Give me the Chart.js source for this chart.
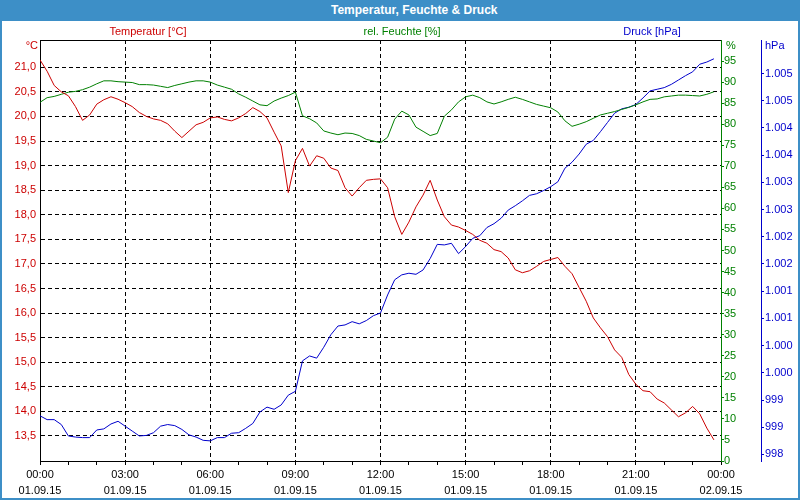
<!DOCTYPE html>
<html>
<head>
<meta charset="utf-8">
<script src="https://cdn.jsdelivr.net/npm/chart.js@4.4.0/dist/chart.umd.min.js"></script>
<style>
body { margin: 0; background: #fff; }
#wrap { position: relative; width: 800px; height: 500px; overflow: hidden; font-family: "Liberation Sans", Arial, sans-serif; font-size: 11px; background: #fff; }
#wrap canvas { position: absolute; left: 0; top: 0; }
.lbl { position: absolute; white-space: nowrap; line-height: 14px; }
#head { position: absolute; left: 0; top: 0; width: 800px; height: 21px; background: #3d8fc7; }
#title { color: #fff; font-weight: bold; font-size: 12px; left: 331px; top: 3px; }
#frame { position: absolute; left: 0; top: 0; width: 800px; height: 500px; box-sizing: border-box; border: 2px solid #3d8fc7; border-top: none; pointer-events: none; }
</style>
</head>
<body>
<div id="wrap">
  <canvas id="canvas1" width="800" height="500"></canvas>
  <div id="head"></div>
  <span class="lbl" id="title">Temperatur, Feuchte &amp; Druck</span>
  <span class="lbl" style="left:148px;top:24px;transform:translateX(-50%);color:#cc0000">Temperatur [°C]</span>
  <span class="lbl" style="left:402px;top:24px;transform:translateX(-50%);color:#008000">rel. Feuchte [%]</span>
  <span class="lbl" style="left:652px;top:24px;transform:translateX(-50%);color:#0000cc">Druck [hPa]</span>
  <span class="lbl" style="right:762px;top:38px;color:#cc0000">°C</span>
  <span class="lbl" style="left:726px;top:38px;color:#008000">%</span>
  <span class="lbl" style="left:765px;top:38px;color:#0000cc">hPa</span>
  <div id="frame"></div>
</div>
<script>
// samples every 15 minutes, 00:00 .. 23:45
const minutes = Array.from({length: 96}, (_, i) => i * 15);

const temperatur = [
  21.15, 20.92, 20.63, 20.5, 20.42, 20.2, 19.92, 20.03, 20.25, 20.34,
  20.4, 20.35, 20.28, 20.2, 20.08, 20.0, 19.95, 19.92, 19.85, 19.7,
  19.57, 19.7, 19.83, 19.88, 19.97, 19.99, 19.94, 19.91, 19.97, 20.06,
  20.18, 20.1, 19.97, 19.68, 19.4, 18.45, 19.1, 19.35, 18.99, 19.2,
  19.15, 18.95, 18.9, 18.55, 18.38, 18.55, 18.7, 18.72, 18.73, 18.55,
  17.96, 17.6, 17.85, 18.16, 18.4, 18.7, 18.3, 17.96, 17.79, 17.75,
  17.68, 17.6, 17.48, 17.42, 17.29, 17.25, 17.12, 16.88, 16.82, 16.86,
  16.95, 17.05, 17.09, 17.13, 16.95, 16.8, 16.52, 16.24, 15.9, 15.7,
  15.52, 15.25, 15.1, 14.75, 14.55, 14.42, 14.4, 14.25, 14.17, 14.03,
  13.89, 13.97, 14.1, 13.95, 13.66, 13.42
];

const feuchte = [
  85.2, 86.3, 86.6, 87.1, 87.6, 87.8, 88.2, 88.8, 89.6, 90.3,
  90.3, 90.1, 90.0, 89.9, 89.4, 89.4, 89.3, 89.0, 88.7, 89.2,
  89.6, 90.0, 90.3, 90.3, 90.0, 89.3, 88.8, 88.3, 87.2, 86.4,
  85.5, 84.6, 84.4, 85.5, 86.2, 86.8, 87.6, 82.0, 81.3, 80.3,
  78.4, 77.9, 77.5, 77.9, 77.8, 77.3, 76.4, 76.0, 75.6, 76.9,
  81.2, 83.1, 82.2, 79.3, 78.3, 77.3, 77.8, 81.9, 83.4, 85.3,
  86.5, 86.9, 86.3, 85.3, 84.8, 85.3, 85.9, 86.4, 85.9, 85.3,
  84.7, 84.3, 83.9, 82.9, 80.8, 79.5, 80.0, 80.6, 81.4, 82.2,
  82.6, 83.0, 83.5, 84.0, 84.6, 85.3, 85.9, 86.0, 86.5, 86.7,
  86.9, 86.9, 86.8, 86.7, 87.1, 87.7
];

const druck = [
  998.71, 998.64, 998.64, 998.55, 998.34, 998.32, 998.31, 998.31, 998.45, 998.47,
  998.56, 998.61, 998.52, 998.43, 998.34, 998.35, 998.40, 998.52, 998.55, 998.53,
  998.46, 998.36, 998.32, 998.26, 998.25, 998.31, 998.31, 998.39, 998.40, 998.48,
  998.57, 998.78, 998.87, 998.83, 998.91, 999.09, 999.16, 999.72, 999.81, 999.77,
  999.97, 1000.20, 1000.36, 1000.38, 1000.44, 1000.40, 1000.46, 1000.55, 1000.60, 1000.93,
  1001.21, 1001.30, 1001.33, 1001.31, 1001.39, 1001.60, 1001.86, 1001.85, 1001.88, 1001.69,
  1001.82, 1001.97, 1002.02, 1002.17, 1002.24, 1002.34, 1002.49, 1002.57, 1002.66, 1002.76,
  1002.79, 1002.85, 1002.92, 1003.01, 1003.26, 1003.37, 1003.52, 1003.70, 1003.77, 1003.93,
  1004.10, 1004.27, 1004.35, 1004.38, 1004.43, 1004.55, 1004.68, 1004.71, 1004.74, 1004.80,
  1004.88, 1004.96, 1005.03, 1005.17, 1005.21, 1005.27
];

// tick labels
const xTickTimes = ['00:00', '03:00', '06:00', '09:00', '12:00', '15:00', '18:00', '21:00', '00:00'];
const xTickDates = ['01.09.15', '01.09.15', '01.09.15', '01.09.15', '01.09.15', '01.09.15', '01.09.15', '01.09.15', '02.09.15'];
const hourTicks = [0, 60, 120, 180, 240, 300, 360, 420, 480, 540, 600, 660, 720, 780, 840, 900, 960, 1020, 1080, 1140, 1200, 1260, 1320, 1380, 1440];
const tempTicks = [13.5, 14.0, 14.5, 15.0, 15.5, 16.0, 16.5, 17.0, 17.5, 18.0, 18.5, 19.0, 19.5, 20.0, 20.5, 21.0];
const humTicks = [0, 5, 10, 15, 20, 25, 30, 35, 40, 45, 50, 55, 60, 65, 70, 75, 80, 85, 90, 95];
const pressTicks = [998, 998.5, 999, 999.5, 1000, 1000.5, 1001, 1001.5, 1002, 1002.5, 1003, 1003.5, 1004, 1004.5, 1005];

const RED = '#cc0000';
const GREEN = '#008000';
const BLUE = '#0000cc';
const font = { family: '"Liberation Sans", Arial, sans-serif', size: 11 };

function pts(values) {
  return minutes.map((m, i) => ({ x: m, y: values[i] }));
}

function hpa(v) {
  let r = Math.round(v);
  if (r >= 1000) return Math.floor(r / 1000) + '.' + String(r % 1000).padStart(3, '0');
  return String(r);
}

const ctx = document.getElementById('canvas1');
const chart = new Chart(ctx, {
  type: 'line',
  data: {
    datasets: [
      { label: 'Temperatur [°C]', data: pts(temperatur), yAxisID: 'yT', borderColor: RED, borderWidth: 1, pointRadius: 0, fill: false, tension: 0 },
      { label: 'rel. Feuchte [%]', data: pts(feuchte), yAxisID: 'yH', borderColor: GREEN, borderWidth: 1, pointRadius: 0, fill: false, tension: 0 },
      { label: 'Druck [hPa]', data: pts(druck), yAxisID: 'yP', borderColor: BLUE, borderWidth: 1, pointRadius: 0, fill: false, tension: 0 }
    ]
  },
  options: {
    responsive: false,
    animation: false,
    devicePixelRatio: 1,
    layout: { padding: { top: 40, left: 0, right: 0, bottom: 0 } },
    plugins: { legend: { display: false }, title: { display: false }, tooltip: { enabled: false } },
    scales: {
      x: {
        type: 'linear', position: 'bottom', min: 0, max: 1440,
        afterBuildTicks: s => { s.ticks = hourTicks.map(v => ({ value: v })); },
        afterFit: s => { s.height = 39; },
        grid: {
          color: c => (c.tick && c.tick.value % 180 === 0 && c.tick.value > 0 && c.tick.value < 1440) ? '#000' : 'rgba(0,0,0,0)',
          tickColor: '#000', tickLength: 4, tickBorderDash: [], lineWidth: 1
        },
        border: { color: '#000', dash: [4, 3] },
        ticks: {
          autoSkip: false, maxRotation: 0, padding: 2, color: '#000',
          font: Object.assign({ lineHeight: 1.45 }, font),
          callback: v => {
            if (v % 180 !== 0) return '';
            const k = v / 180;
            return [xTickTimes[k], xTickDates[k]];
          }
        }
      },
      xTop: {
        type: 'linear', position: 'top', min: 0, max: 1440,
        afterFit: s => { s.height = 0; },
        grid: { display: false },
        ticks: { display: false },
        border: { display: true, color: '#000' }
      },
      yT: {
        position: 'left', min: 12.99, max: 21.555,
        afterBuildTicks: s => { s.ticks = tempTicks.map(v => ({ value: v })); },
        afterFit: s => { s.width = 40; },
        grid: { color: '#000', drawTicks: false, tickBorderDash: [] },
        border: { color: '#000', dash: [4, 3] },
        ticks: { color: RED, padding: 4, font: font, callback: v => v.toFixed(1).replace('.', ',') }
      },
      yH: {
        position: 'right', min: 0, max: 100,
        afterBuildTicks: s => { s.ticks = humTicks.map(v => ({ value: v })); },
        afterFit: s => { s.width = 40; },
        grid: { drawOnChartArea: false, color: GREEN, tickLength: 3, tickBorderDash: [] },
        border: { color: GREEN },
        ticks: { color: GREEN, padding: 0, font: font }
      },
      yP: {
        position: 'right', min: 997.88, max: 1005.615,
        afterBuildTicks: s => { s.ticks = pressTicks.map(v => ({ value: v })); },
        afterFit: s => { s.width = 39; },
        grid: { drawOnChartArea: false, color: BLUE, tickLength: 3, tickBorderDash: [] },
        border: { color: BLUE },
        ticks: { color: BLUE, padding: 1, font: font, callback: v => hpa(v) }
      }
    }
  }
});
</script>
</body>
</html>
